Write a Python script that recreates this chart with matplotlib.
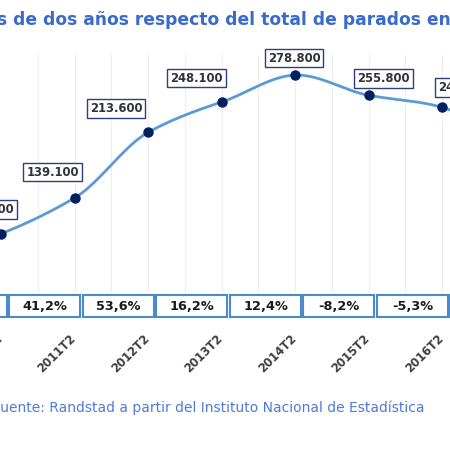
import numpy as np
import matplotlib
matplotlib.use("Agg")
import matplotlib.pyplot as plt
import matplotlib.transforms as mtransforms
from matplotlib.patches import Rectangle

# data (thousands of people); 2009T2 and 2017T2 fall outside the visible crop
periods = ["2009T2", "2010T2", "2011T2", "2012T2", "2013T2", "2014T2", "2015T2", "2016T2", "2017T2"]
parados = [62.0, 98.5, 139.1, 213.6, 248.1, 278.8, 255.8, 242.2, 200.0]
value_labels = ["62.000", "98.500", "139.100", "213.600", "248.100", "278.800", "255.800", "242.200", "200.000"]
pct_labels = ["", "58,9%", "41,2%", "53,6%", "16,2%", "12,4%", "-8,2%", "-5,3%", "-17,4%"]

title = "s de dos años respecto del total de parados en España"
source = "Fuente: Randstad a partir del Instituto Nacional de Estadística"

# layout: label box offsets from each point, in pixels
label_offsets = [(-15, 24), (-9, 24), (-22, 26), (-32, 24), (-25, 24),
                 (-1, 17), (15, 17), (22, 20), (0, 20)]

LINE = "#5b9bd5"
MARK = "#002060"
BLUE_TXT = "#3a6bcc"

W, H = 450, 450
fig = plt.figure(figsize=(4.5, 4.5), dpi=100)
ax = fig.add_axes([0, 0, 1, 1])
ax.set_axis_off()

step = 73.5
x = np.arange(len(periods), dtype=float)
ax.set_xlim(1 - 1 / step, 1 + (W - 1) / step)
# pixel y = 198 - (v - 139.1) * 0.88
ax.set_ylim(139.1 - (H - 198) / 0.88, 139.1 + 198 / 0.88)

# faint vertical gridlines (top ~55px, bottom ~292px)
for g in np.arange(1.5, 8.5, 0.5):
    ax.axvline(g, ymin=1 - 292 / H, ymax=1 - 55 / H, color="#eeeeee", lw=0.8, zorder=0)

# smoothed line (cubic Hermite between the points, slightly tensioned)
y = np.array(parados)
tang = np.gradient(y) * 0.85
xs, ys = [], []
for i in range(len(x) - 1):
    t = np.linspace(0, 1, 30)
    h00 = 2 * t**3 - 3 * t**2 + 1
    h10 = t**3 - 2 * t**2 + t
    h01 = -2 * t**3 + 3 * t**2
    h11 = t**3 - t**2
    xs.extend(x[i] + t)
    ys.extend(h00 * y[i] + h10 * tang[i] + h01 * y[i + 1] + h11 * tang[i + 1])
ax.plot(xs, ys, color=LINE, lw=2, zorder=2, solid_capstyle="round")
ax.plot(x, y, "o", color=MARK, ms=6.5, zorder=3)

# value labels
for xi, yi, lab, (dx, dy) in zip(x, y, value_labels, label_offsets):
    ax.annotate(lab, (xi, yi), xytext=(dx, dy), textcoords="offset pixels",
                ha="center", va="center", fontsize=8.4, fontweight="bold", color="#333333",
                bbox=dict(boxstyle="square,pad=0.25", fc="white", ec="#2f3f78", lw=1),
                zorder=4)

# percentage boxes below the line
trans = mtransforms.blended_transform_factory(ax.transData, ax.transAxes)
y0 = 1 - 317 / H
bh = 22 / H
for xi, lab in zip(x, pct_labels):
    ax.add_patch(Rectangle((xi - 0.885, y0), 0.965, bh, transform=trans,
                           fc="white", ec="#4a8bd0", lw=1.5, zorder=3))
    ax.text(xi - 0.4, y0 + bh / 2, lab, transform=trans, ha="center", va="center",
            fontsize=9.3, fontweight="bold", color="#1a1a1a", zorder=4)

# rotated category labels
for xi, lab in zip(x, periods):
    tr = mtransforms.offset_copy(trans, fig=fig, x=4, y=3, units="dots")
    ax.text(xi, 1 - 335 / H, lab, transform=tr, rotation=45, ha="right", va="top",
            fontsize=8.4, fontweight="bold", color="#404040")

fig.text(-3 / W, 1 - 20 / H, title, ha="left", va="center", fontsize=12.3,
         fontweight="bold", color=BLUE_TXT)
fig.text(-7 / W, 1 - 408 / H, source, ha="left", va="center", fontsize=10,
         color="#4f7bd8")

fig.savefig("out.png", dpi=100)
